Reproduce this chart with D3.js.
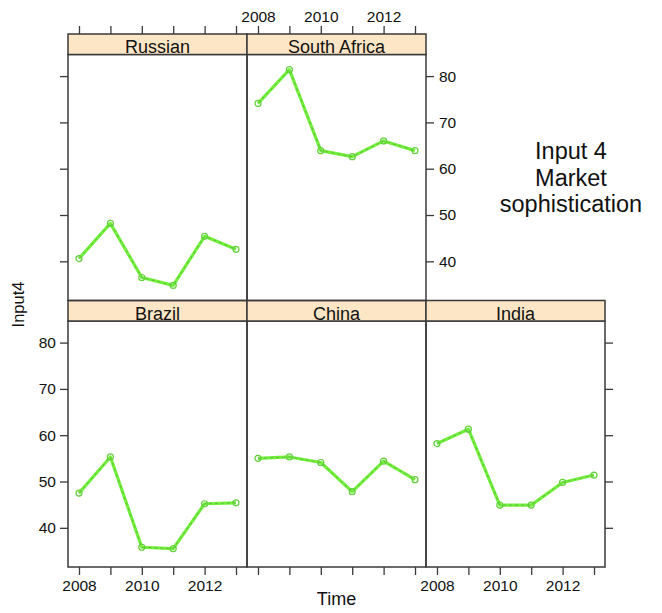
<!DOCTYPE html>
<html>
<head>
<meta charset="utf-8">
<script src="https://cdn.jsdelivr.net/npm/d3@7"></script>
<style>
  html, body { margin: 0; padding: 0; background: #fff; }
  svg { display: block; font-family: "Liberation Sans", Arial, Helvetica, sans-serif; }
</style>
</head>
<body>
<svg id="chart" width="662" height="613"></svg>
<script>
const years = [2008, 2009, 2010, 2011, 2012, 2013];
const countries = ["Brazil", "China", "India", "Russian", "South Africa"];
const russian = [40.6, 48.2, 36.5, 34.8, 45.4, 42.6];
const southAfrica = [74.1, 81.4, 63.9, 62.6, 66.0, 63.9];
const brazil = [47.5, 55.3, 35.8, 35.5, 45.2, 45.4];
const china = [55.0, 55.3, 54.1, 47.8, 54.4, 50.4];
const india = [58.2, 61.3, 44.9, 44.9, 49.8, 51.4];
const xTicks = [2008, 2009, 2010, 2011, 2012, 2013];
const xTickLabels = [2008, 2010, 2012];
const yTicks = [40, 50, 60, 70, 80];
const titleLines = ["Input 4", "Market", "sophistication"];

const seriesByCountry = {
  "Brazil": brazil, "China": china, "India": india,
  "Russian": russian, "South Africa": southAfrica
};

// lattice layout: 3 columns, 2 rows, filled from bottom-left
const panelW = 179, panelH = 246, stripH = 20.5;
const left0 = 68, top0 = 34;
const rowH = stripH + panelH;

const svg = d3.select("#chart");

const allVals = [].concat(russian, southAfrica, brazil, china, india);
const [ymin, ymax] = d3.extent(allVals);
const ypad = (ymax - ymin) * 0.07;
const [xmin, xmax] = d3.extent(years);
const xpad = (xmax - xmin) * 0.07;

const x = d3.scaleLinear().domain([xmin - xpad, xmax + xpad]).range([0, panelW]);
const y = d3.scaleLinear().domain([ymin - ypad, ymax + ypad]).range([panelH, 0]);

const borderColor = "#3a3a3a";
const stripFill = "#fde6c6";

countries.forEach((name, i) => {
  const col = i % 3;
  const rowFromBottom = Math.floor(i / 3);
  const row = 1 - rowFromBottom; // 0 = top row
  const px = left0 + col * panelW;
  const stripY = top0 + row * rowH;
  const py = stripY + stripH;
  const g = svg.append("g").attr("transform", `translate(${px},${py})`);

  // strip
  svg.append("rect")
    .attr("x", px).attr("y", stripY).attr("width", panelW).attr("height", stripH)
    .attr("fill", stripFill).attr("stroke", borderColor).attr("stroke-width", 1.5);
  svg.append("text")
    .attr("x", px + panelW / 2).attr("y", stripY + stripH - 1.5)
    .attr("text-anchor", "middle").attr("font-size", 18).attr("fill", "#111")
    .text(name);

  // data
  const vals = seriesByCountry[name];
  const pts = years.map((yr, k) => [yr, vals[k]]);
  const line = d3.line().x(d => x(d[0])).y(d => y(d[1]));
  g.append("path").attr("d", line(pts))
    .attr("fill", "none").attr("stroke", "#72f03c").attr("stroke-width", 3.2)
    .attr("stroke-linejoin", "round");
  g.append("path").attr("d", line(pts))
    .attr("fill", "none").attr("stroke", "#4f8a3c").attr("stroke-width", 1)
    .attr("stroke-dasharray", "3,3").attr("opacity", 0.5);
  g.selectAll("circle").data(pts).enter().append("circle")
    .attr("cx", d => x(d[0])).attr("cy", d => y(d[1])).attr("r", 3)
    .attr("fill", "none").attr("stroke", "#62cf3c").attr("stroke-width", 1.2);

  // panel border
  g.append("rect").attr("width", panelW).attr("height", panelH)
    .attr("fill", "none").attr("stroke", borderColor).attr("stroke-width", 1.5);

  // axes
  const tickStyle = sel => {
    sel.select(".domain").remove();
    sel.selectAll(".tick line").attr("stroke", borderColor).attr("stroke-width", 1.3);
    sel.selectAll(".tick text").attr("font-size", 15.5).attr("fill", "#111")
      .attr("font-family", "'Liberation Sans', Arial, sans-serif");
  };

  // bottom axis (bottom row only)
  if (row === 1) {
    const showLabels = (col === 0 || col === 2);
    const ax = d3.axisBottom(x).tickValues(xTicks).tickSize(8).tickPadding(5)
      .tickFormat(d => showLabels && xTickLabels.includes(d) ? String(d) : "");
    g.append("g").attr("transform", `translate(0,${panelH})`).call(ax).call(tickStyle);
  }
  // top axis (top row only, above strip)
  if (row === 0) {
    const showLabels = (col === 1);
    const ax = d3.axisTop(x).tickValues(xTicks).tickSize(8).tickPadding(4)
      .tickFormat(d => showLabels && xTickLabels.includes(d) ? String(d) : "");
    g.append("g").attr("transform", `translate(0,${-stripH})`).call(ax).call(tickStyle);
  }
  // left axis (first column)
  if (col === 0) {
    const showLabels = (row === 1);
    const ax = d3.axisLeft(y).tickValues(yTicks).tickSize(8).tickPadding(4)
      .tickFormat(d => showLabels ? String(d) : "");
    g.append("g").call(ax).call(tickStyle);
  }
  // right axis (last panel in each row)
  const lastInRow = (row === 0 && col === 1) || (row === 1 && col === 2);
  if (lastInRow) {
    const showLabels = (row === 0);
    const ax = d3.axisRight(y).tickValues(yTicks).tickSize(8).tickPadding(5)
      .tickFormat(d => showLabels ? String(d) : "");
    g.append("g").attr("transform", `translate(${panelW},0)`).call(ax).call(tickStyle);
  }
});

// axis titles
svg.append("text")
  .attr("transform", `translate(24,${top0 + rowH + 4})rotate(-90)`)
  .attr("text-anchor", "middle").attr("font-size", 16.5).attr("fill", "#111")
  .text("Input4");
svg.append("text")
  .attr("x", left0 + 1.5 * panelW).attr("y", 605)
  .attr("text-anchor", "middle").attr("font-size", 18).attr("fill", "#111")
  .text("Time");

// annotation
const ann = svg.append("text").attr("text-anchor", "middle")
  .attr("font-size", 23.5).attr("fill", "#111");
titleLines.forEach((t, k) => {
  ann.append("tspan").attr("x", 571).attr("y", 159 + k * 26.5).text(t);
});
</script>
</body>
</html>
